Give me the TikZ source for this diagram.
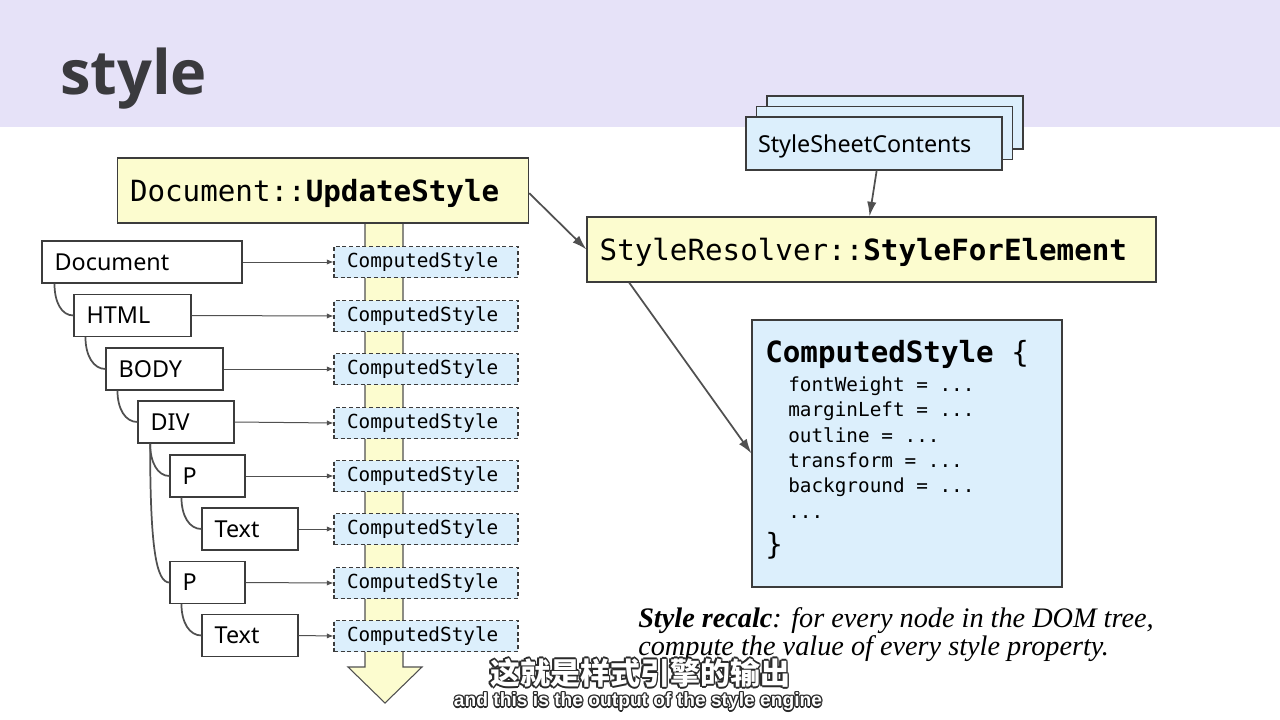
\documentclass[tikz,border=0pt]{standalone}
\usepackage{fontspec}
\setmainfont{Noto Sans}
\setmonofont{DejaVu Sans Mono}
\newfontfamily\titlefont{Open Sans}
\newfontfamily\capfont{Liberation Serif}
\newfontfamily\cjk{Noto Sans CJK SC}
\newfontfamily\subfont{Liberation Sans}
\usetikzlibrary{arrows.meta}
\definecolor{hdr}{HTML}{E6E2F8}
\definecolor{titlegray}{HTML}{3A3A3E}
\definecolor{yel}{HTML}{FCFCCF}
\definecolor{blu}{HTML}{DCEFFC}
\definecolor{edge}{HTML}{505050}
\definecolor{boxline}{HTML}{3C3C3C}
\definecolor{subdark}{HTML}{2A2A2A}
\tikzset{
  bigmono/.style={font=\ttfamily\fontsize{21.9}{24}\selectfont},
  smallmono/.style={font=\ttfamily\fontsize{14.5}{17}\selectfont},
  treenode/.style={draw=boxline, line width=0.8pt, fill=white, inner xsep=9.5pt, inner ysep=0pt,
    minimum height=31.5pt, align=left, text depth=0pt, font=\fontsize{17.5}{20}\selectfont},
  csbox/.style={draw=boxline, line width=0.8pt, dash pattern=on 3pt off 2pt, fill=blu,
    text width=118.5pt, inner xsep=9.75pt, inner ysep=0pt, align=left,
    minimum height=23.25pt, smallmono},
  funcbox/.style={draw=boxline, line width=0.8pt, fill=yel, inner xsep=9.5pt, inner ysep=0pt,
    minimum height=48.75pt, align=left, text depth=0pt, bigmono},
  sheetbox/.style={draw=boxline, line width=0.8pt, fill=blu, minimum width=192pt, minimum height=39.75pt,
    inner xsep=9pt, inner ysep=0pt, align=left, text width=174pt, text depth=0pt,
    font=\fontsize{17.5}{20}\selectfont},
  thinarrow/.style={draw=edge, line width=0.75pt, -{Latex[length=5pt,width=4pt]}},
  thickarrow/.style={draw=edge, line width=1.3pt, -{Latex[length=11pt,width=7pt]}},
  treeline/.style={draw=edge, line width=1.3pt},
  txt/.style={inner sep=0pt, anchor=base west},
  capstyle/.style={txt, font=\capfont\itshape\fontsize{21.2}{24}\selectfont},
}
\begin{document}
\begin{tikzpicture}[x=0.75pt,y=-0.75pt]
\useasboundingbox (0,0) rectangle (1280,720);
\fill[white] (0,0) rectangle (1280,720);
% header
\fill[hdr] (0,0) rectangle (1280,127);
\node[txt, font=\titlefont\bfseries\fontsize{46}{52}\selectfont, text=titlegray] (title) at (60,95) {style};

% yellow downward arrow
\draw[fill=yel, draw=edge, line width=0.8pt] (365,223) -- (365,667) -- (348,667) -- (385,703) -- (422,667) -- (403,667) -- (403,223);

% function box
\node[funcbox, text width=289.5pt] (upd) at (323,190.5) {Document::\textbf{UpdateStyle}};

% tree nodes
\node[treenode, text width=131pt] (doc) at (142,262) {Document};
\node[treenode, text width=68.75pt] (html) at (132.5,315.5) {HTML};
\node[treenode, text width=68.75pt] (body) at (164.5,369) {BODY};
\node[treenode, text width=53pt] (div) at (186,422) {DIV};
\node[treenode, text width=37.25pt] (p1) at (207.5,476) {P};
\node[treenode, text width=53pt] (t1) at (250,529) {Text};
\node[treenode, text width=37.25pt] (p2) at (207.5,582.5) {P};
\node[treenode, text width=53pt] (t2) at (250,635.5) {Text};

% tree connectors
\tikzset{shortcurve/.style={treeline, out=-90, in=180, out distance=14pt, in distance=9pt}}
\draw[shortcurve] ([xshift=9.75pt]doc.south west) to (html.west);
\draw[shortcurve] ([xshift=9pt]html.south west) to (body.west);
\draw[shortcurve] ([xshift=9pt]body.south west) to (div.west);
\draw[shortcurve] ([xshift=9.5pt]div.south west) to (p1.west);
\draw[treeline] ([xshift=9.5pt]div.south west) to[out=-90, in=180, out distance=78pt, in distance=10pt] (p2.west);
\draw[shortcurve] ([xshift=9pt]p1.south west) to (t1.west);
\draw[shortcurve] ([xshift=9pt]p2.south west) to (t2.west);

% computed style boxes
\node[csbox] (c1) at (426,262) {ComputedStyle};
\node[csbox] (c2) at (426,316) {ComputedStyle};
\node[csbox] (c3) at (426,369) {ComputedStyle};
\node[csbox] (c4) at (426,423) {ComputedStyle};
\node[csbox] (c5) at (426,476) {ComputedStyle};
\node[csbox] (c6) at (426,529) {ComputedStyle};
\node[csbox] (c7) at (426,583) {ComputedStyle};
\node[csbox] (c8) at (426,636) {ComputedStyle};

\draw[thinarrow] (doc.east) -- (c1.west);
\draw[thinarrow] (html.east) -- (c2.west);
\draw[thinarrow] (body.east) -- (c3.west);
\draw[thinarrow] (div.east) -- (c4.west);
\draw[thinarrow] (p1.east) -- (c5.west);
\draw[thinarrow] (t1.east) -- (c6.west);
\draw[thinarrow] (p2.east) -- (c7.west);
\draw[thinarrow] (t2.east) -- (c8.west);

% stylesheet stack
\node[sheetbox] (sh3) at (895,122.5) {};
\node[sheetbox] (sh2) at (884.5,133) {};
\node[sheetbox] (sh1) at (874,143.5) {StyleSheetContents};

% resolver
\node[funcbox, text width=407.75pt] (res) at (871.5,249.5) {StyleResolver::\textbf{StyleForElement}};

\draw[thickarrow] ([xshift=2pt]sh1.south) -- ([xshift=-1.5pt]res.north);
\draw[thickarrow] ([yshift=-2pt]upd.east) -- (res.west);

% big computed style box
\node[draw=boxline, line width=0.8pt, fill=blu, minimum width=232.5pt, minimum height=200.25pt, inner sep=0pt] (big) at (907,453.5) {};
\draw[thickarrow] ([xshift=32pt]res.south west) -- (big.west);

\node[txt, bigmono] (cst) at (765,362) {\textbf{ComputedStyle} \{};
\node[txt, smallmono] (f1) at (788,391) {fontWeight = ...};
\node[txt, smallmono] (f2) at (788,416) {marginLeft = ...};
\node[txt, smallmono] (f3) at (788,442) {outline = ...};
\node[txt, smallmono] (f4) at (788,467) {transform = ...};
\node[txt, smallmono] (f5) at (788,492) {background = ...};
\node[txt, smallmono] (f6) at (788,518) {...};
\node[txt, bigmono] (cbr) at (765,554) {\}};

% caption
\node[capstyle] (cap1) at (638,627) {\textbf{Style recalc}: for every node in the DOM tree,};
\node[capstyle] (cap2) at (638,655) {compute the value of every style property.};

% subtitles (outlined)
\foreach \dx/\dy [count=\i] in {-1.6/0,1.6/0,0/-1.6,0/1.6,-1.2/-1.2,1.2/-1.2,-1.2/1.2,1.2/1.2}{
  \node[inner sep=0pt, text=subdark, font=\cjk\bfseries\fontsize{22.5}{26}\selectfont] (zhs\i) at (640+\dx,673+\dy) {这就是样式引擎的输出};
  \node[inner sep=0pt, text=subdark, font=\subfont\bfseries\fontsize{14.4}{16}\selectfont] (ens\i) at (638+\dx*0.8,702+\dy*0.8) {and this is the output of the style engine};
}
\node[inner sep=0pt, text=white, font=\cjk\bfseries\fontsize{22.5}{26}\selectfont] (zh) at (640,673) {这就是样式引擎的输出};
\node[inner sep=0pt, text=white, font=\subfont\bfseries\fontsize{14.4}{16}\selectfont] (en) at (638,702) {and this is the output of the style engine};
\end{tikzpicture}
\end{document}
